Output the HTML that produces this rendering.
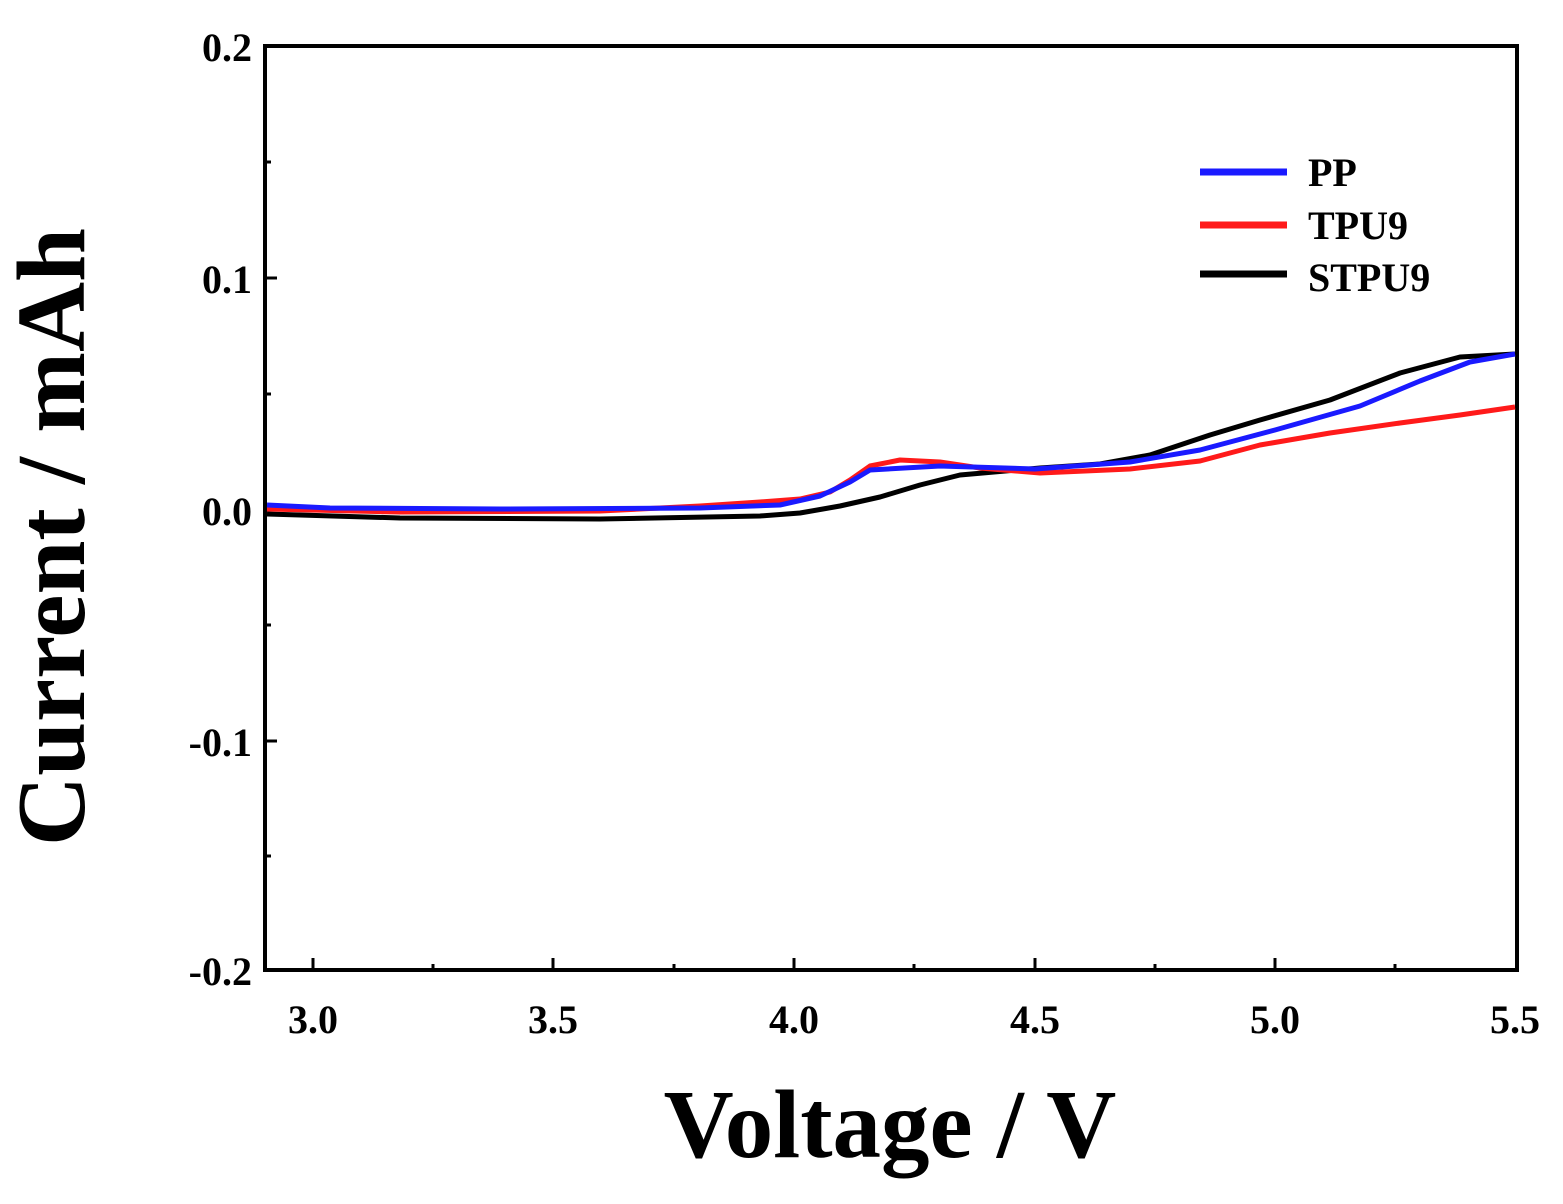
<!DOCTYPE html>
<html><head><style>body{margin:0;background:#fff}</style></head><body>
<svg width="1563" height="1199" viewBox="0 0 1563 1199" xmlns="http://www.w3.org/2000/svg" font-family="Liberation Serif, serif" font-weight="bold">
<rect width="1563" height="1199" fill="#fff"/>
<g stroke="#000" stroke-width="4" fill="none">
<rect x="265" y="46" width="1252" height="924"/>
</g>
<g stroke="#000" stroke-width="3">
<line x1="313" y1="970" x2="313" y2="958"/><line x1="553" y1="970" x2="553" y2="958"/><line x1="794" y1="970" x2="794" y2="958"/><line x1="1035" y1="970" x2="1035" y2="958"/><line x1="1275" y1="970" x2="1275" y2="958"/>
<line x1="433" y1="970" x2="433" y2="964"/><line x1="674" y1="970" x2="674" y2="964"/><line x1="914" y1="970" x2="914" y2="964"/><line x1="1155" y1="970" x2="1155" y2="964"/><line x1="1395" y1="970" x2="1395" y2="964"/>
<line x1="265" y1="278" x2="277" y2="278"/><line x1="265" y1="510" x2="277" y2="510"/><line x1="265" y1="741" x2="277" y2="741"/>
<line x1="265" y1="162" x2="271" y2="162"/><line x1="265" y1="394" x2="271" y2="394"/><line x1="265" y1="625" x2="271" y2="625"/><line x1="265" y1="856" x2="271" y2="856"/>
</g>
<g font-size="40" text-anchor="end">
<text x="252" y="61">0.2</text><text x="252" y="293">0.1</text><text x="252" y="525">0.0</text><text x="252" y="756">-0.1</text><text x="252" y="985">-0.2</text>
</g>
<g font-size="40" text-anchor="middle">
<text x="313" y="1033">3.0</text><text x="553" y="1033">3.5</text><text x="794" y="1033">4.0</text><text x="1035" y="1033">4.5</text><text x="1275" y="1033">5.0</text><text x="1515" y="1033">5.5</text>
</g>
<text x="890" y="1157" font-size="97" text-anchor="middle">Voltage / V</text>
<text transform="translate(84,537) rotate(-90)" font-size="97" text-anchor="middle">Current / mAh</text>
<g fill="none" stroke-width="5" stroke-linejoin="round">
<polyline stroke="#000" points="267,514 400,518 600,519 760,516 800,513 840,506 880,497 920,485 960,475 1040,468 1100,464 1150,455 1210,435 1260,420 1330,400 1400,373 1460,357 1515,354"/>
<polyline stroke="#ff1a1a" points="267,509 400,512 600,511 700,506 760,502 800,499 830,492 850,480 870,466 900,460 940,462 980,468 1040,473 1130,469 1200,461 1260,445 1330,433 1400,423 1460,415 1515,407"/>
<polyline stroke="#1a1aff" points="267,505 330,508 500,509 700,508 780,505 820,496 850,482 870,470 940,466 1035,469 1130,462 1200,450 1275,430 1360,406 1420,381 1470,362 1515,354"/>
</g>
<g stroke-width="7">
<line x1="1200" y1="172" x2="1287" y2="172" stroke="#1a1aff"/>
<line x1="1200" y1="225" x2="1287" y2="225" stroke="#ff1a1a"/>
<line x1="1200" y1="274" x2="1287" y2="274" stroke="#000"/>
</g>
<g font-size="40">
<text x="1308" y="186">PP</text><text x="1308" y="239">TPU9</text><text x="1308" y="291">STPU9</text>
</g>
</svg>
</body></html>
